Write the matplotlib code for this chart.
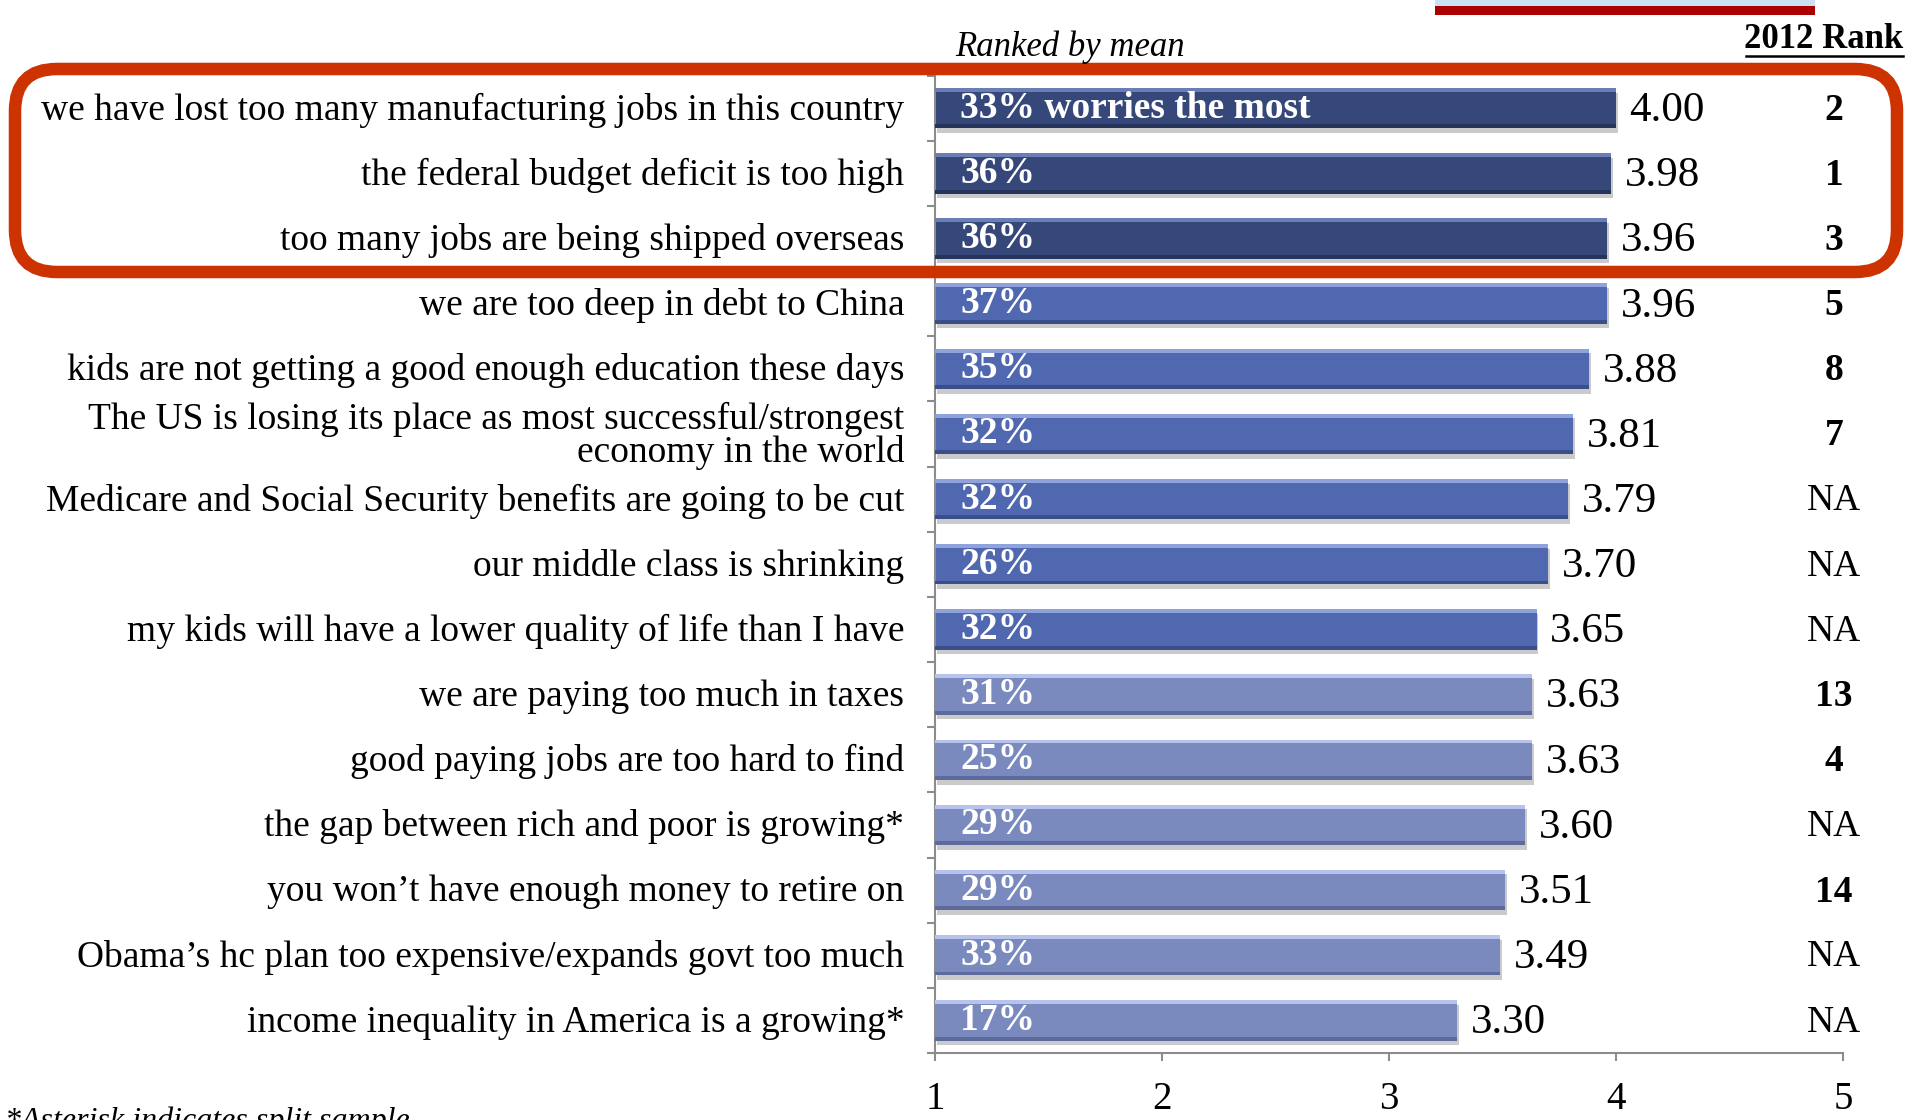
import matplotlib
matplotlib.use("Agg")
import matplotlib.pyplot as plt
from matplotlib.patches import FancyBboxPatch, Rectangle
from matplotlib.lines import Line2D

plt.rcParams['font.family'] = ['Liberation Serif', 'DejaVu Serif']

# worries, ranked by mean score
worries = [
    "we have lost too many manufacturing jobs in this country",
    "the federal budget deficit is too high",
    "too many jobs are being shipped overseas",
    "we are too deep in debt to China",
    "kids are not getting a good enough education these days",
    "The US is losing its place as most successful/strongest\neconomy in the world",
    "Medicare and Social Security benefits are going to be cut",
    "our middle class is shrinking",
    "my kids will have a lower quality of life than I have",
    "we are paying too much in taxes",
    "good paying jobs are too hard to find",
    "the gap between rich and poor is growing*",
    "you won\u2019t have enough money to retire on",
    "Obama\u2019s hc plan too expensive/expands govt too much",
    "income inequality in America is a growing*",
]
means = [4.00, 3.98, 3.96, 3.96, 3.88, 3.81, 3.79, 3.70, 3.65,
         3.63, 3.63, 3.60, 3.51, 3.49, 3.30]
pct_most = [33, 36, 36, 37, 35, 32, 32, 26, 32, 31, 25, 29, 29, 33, 17]
rank_2012 = ["2", "1", "3", "5", "8", "7", "NA", "NA", "NA",
             "13", "4", "NA", "14", "NA", "NA"]
tiers = [0, 0, 0, 1, 1, 1, 1, 1, 1, 2, 2, 2, 2, 2, 2]

tier_face = ["#36477A", "#5068B0", "#7B8ABE"]
tier_light = ["#6A7DB5", "#8FA2DC", "#B7C3EC"]
tier_dark = ["#26335A", "#3A4E8A", "#5C6A9C"]

W, H = 1923, 1120
fig = plt.figure(figsize=(W / 100, H / 100), dpi=100)
ax = fig.add_axes([935 / W, 1 - 1053 / H, 908 / W, 977.4 / H])

n = len(worries)
ys = list(range(n))
bh = 0.62

# soft drop shadow, bar body, then bevel strips
ax.barh([y + 0.07 for y in ys], [m - 1 for m in means], left=1.008,
        height=bh, color="#BDBDBD", alpha=0.8, zorder=1)
ax.barh(ys, [m - 1 for m in means], left=1, height=bh,
        color=[tier_face[t] for t in tiers], zorder=2)
ax.barh([y - bh / 2 + 0.03 for y in ys], [m - 1 for m in means], left=1,
        height=0.06, color=[tier_light[t] for t in tiers], zorder=3)
ax.barh([y + bh / 2 - 0.03 for y in ys], [m - 1 for m in means], left=1,
        height=0.06, color=[tier_dark[t] for t in tiers], zorder=3)

ax.set_xlim(1, 5)
ax.set_ylim(n - 0.5, -0.5)

for y, label, m, p, r in zip(ys, worries, means, pct_most, rank_2012):
    ax.text(0.865, y + 0.03, label, ha='right', va='center', fontsize=27,
            linespacing=0.95, clip_on=False)
    txt = f"{p}%"
    if y == 0:
        txt += " worries the most"
    ax.text(1.11, y, txt, ha='left', va='center', fontsize=27,
            fontweight='bold', color='white', zorder=4)
    ax.text(m + 0.06, y + 0.04, f"{m:.2f}", ha='left', va='center',
            fontsize=31)
    ax.text(4.96, y + 0.03, r, ha='center', va='center', fontsize=27,
            fontweight='normal' if r == "NA" else 'bold', clip_on=False)

for side in ['top', 'right']:
    ax.spines[side].set_visible(False)
for side in ['left', 'bottom']:
    ax.spines[side].set_color("#8C8C8C")
    ax.spines[side].set_linewidth(1.5)

ax.set_xticks([1, 2, 3, 4, 5])
ax.set_xticklabels(["1", "2", "3", "4", "5"], fontsize=28)
ax.tick_params(axis='x', direction='out', length=6, width=1.5,
               color="#8C8C8C", pad=14)
ax.set_yticks([y + 0.5 for y in range(-1, n)])
ax.set_yticklabels([])
ax.tick_params(axis='y', direction='out', length=6, width=1.5,
               color="#8C8C8C")

# headers
fig.text(955 / W, 1 - 47 / H, "Ranked by mean", fontsize=25,
         style='italic', va='center', ha='left')
fig.text(1903 / W, 1 - 40 / H, "2012 Rank", fontsize=25,
         fontweight='bold', va='center', ha='right')
fig.add_artist(Line2D([1746 / W, 1903 / W], [1 - 56 / H, 1 - 56 / H],
                      color='black', lw=1.8))

# highlight frame around the top three worries
fig.add_artist(FancyBboxPatch((15, H - 272), 1882, 203,
                              boxstyle="round,pad=0,rounding_size=42",
                              transform=None, fill=False,
                              edgecolor="#CC3300", linewidth=9))

# strip along the top edge
fig.add_artist(Rectangle((1435, H - 6), 380, 6, transform=None,
                         color="#CCE0F5", lw=0))
fig.add_artist(Rectangle((1435, H - 15), 380, 9, transform=None,
                         color="#AA0000", lw=0))

fig.text(5 / W, 1 - 1106 / H, "*Asterisk indicates split sample",
         fontsize=23, style='italic', va='top', ha='left')

fig.savefig("out.png", dpi=100)
